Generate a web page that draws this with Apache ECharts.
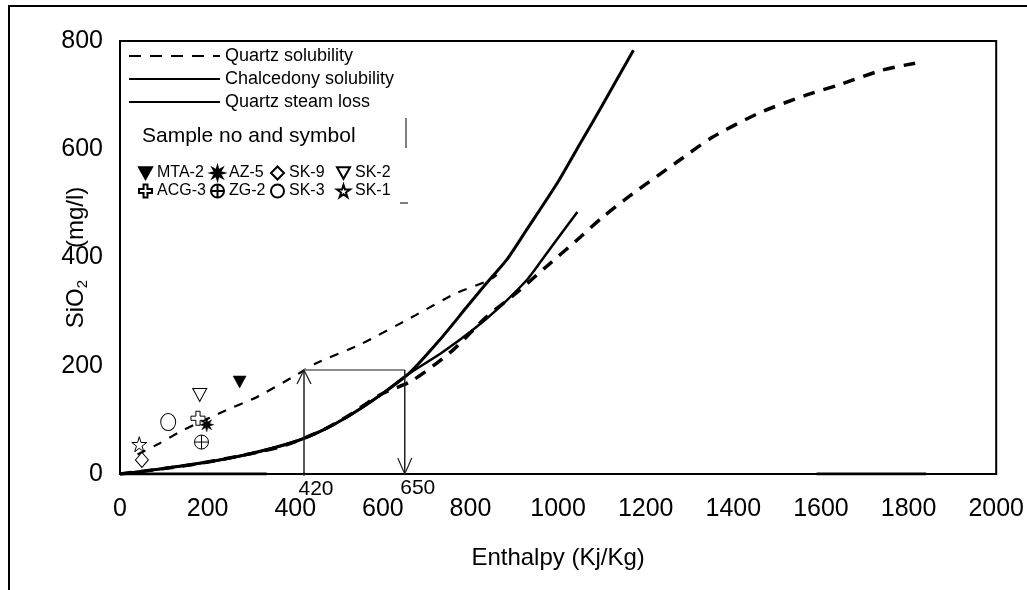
<!DOCTYPE html>
<html>
<head>
<meta charset="utf-8">
<script src="https://cdn.jsdelivr.net/npm/echarts@6/dist/echarts.min.js"></script>
<style>html,body{margin:0;padding:0;background:#fff}#c{width:1027px;height:590px}</style>
</head>
<body>
<div id="c"></div>
<script>
// ---- data ----
const xTicks = [0, 200, 400, 600, 800, 1000, 1200, 1400, 1600, 1800, 2000];
const yTicks = [0, 200, 400, 600, 800];

const quartzH = [0, 100, 200, 300, 365, 410, 463, 524, 593, 668, 760, 836, 904, 973, 1040, 1101, 1169, 1269, 1352, 1459, 1566, 1641, 1739, 1815];
const quartzS = [0, 10, 22, 38, 50, 63, 81, 109, 146, 173, 229, 290, 334, 383, 430, 474, 517, 575, 622, 667, 700, 719, 746, 759];

const chalcH = [0, 100, 200, 300, 400, 463, 524, 593, 661, 729, 791, 836, 882, 928, 1000, 1050, 1100, 1172];
const chalcS = [0, 10, 22, 38, 60, 81, 108, 145, 187, 247, 308, 352, 395, 451, 540, 610, 680, 783];

const steamH = [0, 100, 200, 300, 400, 463, 524, 593, 650, 736, 805, 866, 928, 960, 996, 1044];
const steamS = [0, 10, 22, 38, 60, 81, 108, 145, 180, 225, 266, 308, 358, 392, 432, 484];

const mixH = [40, 91, 144, 243, 312, 394, 449, 550, 676, 767, 843, 860];
const mixS = [36, 57, 81, 118, 142, 179, 205, 240, 294, 334, 358, 368];

const arrowH = [420, 650];      // enthalpy of the two vertical arrows
const arrowS = 192;             // silica level of the horizontal link
const arrowLabels = ['420', '650'];

const sampleNames = ['MTA-2', 'AZ-5', 'SK-9', 'SK-2', 'ACG-3', 'ZG-2', 'SK-3', 'SK-1'];
const sampleH = [273, 198, 50, 182, 178, 186, 110, 44];
const sampleS = [170, 91, 26, 146, 103, 59, 96, 55];

const traceA = [[0, 0], [335, 0]];
const traceB = [[1590, 0], [1840, 0]];

// ---- helpers ----
const zip = (a, b) => a.map((v, i) => [v, b[i]]);
const SANS = "'Liberation Sans',Arial,sans-serif";

const SYM = {
  downTri: 'path://M0,0 L100,0 L50,90 Z',
  burst: 'path://M50,0 L58.4,29.7 L85.4,14.6 L70.3,41.6 L100,50 L70.3,58.4 L85.4,85.4 L58.4,70.3 L50,100 L41.6,70.3 L14.6,85.4 L29.7,58.4 L0,50 L29.7,41.6 L14.6,14.6 L41.6,29.7 Z',
  diamond: 'path://M50,0 L100,50 L50,100 L0,50 Z',
  cross: 'path://M35,0 L65,0 L65,35 L100,35 L100,65 L65,65 L65,100 L35,100 L35,65 L0,65 L0,35 L35,35 Z',
  circlePlus: 'path://M50,0 A50,50 0 1,1 49.99,0 Z M50,0 L50,100 M0,50 L100,50',
  circle: 'circle',
  star: 'path://M50,0 L61,35 L98,35 L68,57 L79,91 L50,70 L21,91 L32,57 L2,35 L39,35 Z',
  arrowUp: 'path://M0,100 L50,0 L100,100',
  arrowDown: 'path://M0,0 L50,100 L100,0'
};
const sampleSym = [SYM.downTri, SYM.burst, SYM.diamond, SYM.downTri, SYM.cross, SYM.circlePlus, SYM.circle, SYM.star];
const sampleFilled = [true, true, false, false, false, false, false, false];
const sampleSize = [[13, 12], 14, [13, 15], [14, 13], 14, 14, [15, 17], 15];

const arrowLabel = (txt, dx) => ({
  show: true, formatter: txt, position: 'bottom', distance: 2, offset: [dx, 1],
  fontSize: 21, fontFamily: SANS, color: '#000', opacity: 1
});

const chart = echarts.init(document.getElementById('c'), null, {renderer: 'canvas'});

const series = [
  {
    name: 'Quartz solubility', type: 'line', data: zip(quartzH, quartzS), symbol: 'none', smooth: 0.25,
    itemStyle: {color: '#000'}, lineStyle: {color: '#000', width: 3.5, type: [12, 9]}, z: 3
  },
  {
    name: 'Chalcedony solubility', type: 'line', data: zip(chalcH, chalcS), symbol: 'none', smooth: 0.25,
    itemStyle: {color: '#000'}, lineStyle: {color: '#000', width: 3}, z: 3
  },
  {
    name: 'Quartz steam loss', type: 'line', data: zip(steamH, steamS), symbol: 'none', smooth: 0.25,
    itemStyle: {color: '#000'}, lineStyle: {color: '#000', width: 2.5}, z: 3
  },
  {
    name: 'Mixing line', type: 'line', data: zip(mixH, mixS), symbol: 'none', smooth: 0.2,
    lineStyle: {color: '#000', width: 2.2, type: [9, 9]}, z: 3
  },
  {
    name: 'trace1', type: 'line', data: traceA, symbol: 'none', lineStyle: {color: '#000', width: 3}, z: 2
  },
  {
    name: 'trace2', type: 'line', data: traceB, symbol: 'none', lineStyle: {color: '#000', width: 3}, z: 2
  },
  {
    name: 'arrow420', type: 'line', showSymbol: true,
    data: [
      {value: [arrowH[0], 0], symbol: 'circle', symbolSize: 2, label: arrowLabel(arrowLabels[0], 12)},
      {value: [arrowH[0], arrowS], symbol: SYM.arrowUp, symbolSize: [14, 14], symbolOffset: [0, 7]}
    ],
    lineStyle: {color: '#222', width: 1.5},
    itemStyle: {color: 'rgba(0,0,0,0)', borderColor: '#222', borderWidth: 1.3}, z: 4
  },
  {
    name: 'link', type: 'line', symbol: 'none',
    data: [[arrowH[0], arrowS], [arrowH[1], arrowS]],
    lineStyle: {color: '#8a8a8a', width: 2}, z: 4
  },
  {
    name: 'arrow650', type: 'line', showSymbol: true,
    data: [
      {value: [arrowH[1], arrowS], symbol: 'none'},
      {value: [arrowH[1], 0], symbol: SYM.arrowDown, symbolSize: [14, 16], symbolOffset: [0, -8],
       label: arrowLabel(arrowLabels[1], 13)}
    ],
    lineStyle: {color: '#222', width: 1.5},
    itemStyle: {color: 'rgba(0,0,0,0)', borderColor: '#222', borderWidth: 1.3}, z: 4
  }
];

sampleNames.forEach((n, i) => {
  series.push({
    name: n, type: 'scatter', data: [[sampleH[i], sampleS[i]]],
    symbol: sampleSym[i], symbolSize: sampleSize[i],
    itemStyle: {opacity: 1, color: sampleFilled[i] ? '#000' : '#fff', borderColor: '#000', borderWidth: sampleFilled[i] ? 0.5 : 1},
    z: 5
  });
});

const sampleLegendCols = [
  {left: 138, names: ['MTA-2', 'ACG-3']},
  {left: 210, names: ['AZ-5', 'ZG-2']},
  {left: 270, names: ['SK-9', 'SK-3']},
  {left: 336, names: ['SK-2', 'SK-1']}
];

const legends = [{
  data: ['Quartz solubility', 'Chalcedony solubility', 'Quartz steam loss'],
  orient: 'vertical', left: 128, top: 47, padding: 0,
  itemWidth: 91, itemHeight: 14, itemGap: 5, selectedMode: false,
  itemStyle: {color: 'rgba(0,0,0,0)', borderColor: 'rgba(0,0,0,0)', borderWidth: 0},
  textStyle: {fontSize: 18, fontFamily: SANS, color: '#000'}
}];
sampleLegendCols.forEach(c => legends.push({
  data: c.names, orient: 'vertical', left: c.left, top: 165, padding: 0,
  itemWidth: 13, itemHeight: 13, itemGap: 2, selectedMode: false,
  textStyle: {fontSize: 16, fontFamily: SANS, color: '#000'}
}));

chart.setOption({
  animation: false,
  backgroundColor: '#fff',
  grid: {left: 120, right: 29, top: 41, bottom: 116, show: true, borderColor: '#000', borderWidth: 2},
  xAxis: {
    type: 'value', min: xTicks[0], max: xTicks[xTicks.length - 1], interval: 200,
    name: 'Enthalpy (Kj/Kg)', nameLocation: 'middle', nameGap: 72, nameMoveOverlap: false,
    nameTextStyle: {fontSize: 24, fontFamily: SANS, color: '#000'},
    axisLine: {show: true, lineStyle: {color: '#000', width: 2}},
    axisTick: {show: false}, splitLine: {show: false},
    axisLabel: {fontSize: 25, fontFamily: SANS, color: '#000', margin: 23, formatter: v => String(v)}
  },
  yAxis: {
    type: 'value', min: yTicks[0], max: yTicks[yTicks.length - 1], interval: 200,
    name: '{a|SiO}{b|2}{c|(mg/l)}', nameLocation: 'middle', nameRotate: 90, nameGap: 30,
    nameMoveOverlap: false,
    nameTextStyle: {
      color: '#000',
      rich: {
        a: {fontSize: 24, fontFamily: SANS, color: '#000'},
        b: {fontSize: 15, fontFamily: SANS, color: '#000', verticalAlign: 'bottom', padding: [13, 0, 0, 0]},
        c: {fontSize: 24, fontFamily: SANS, color: '#000', padding: [0, 0, 0, 32]}
      }
    },
    axisLine: {show: true, lineStyle: {color: '#000', width: 2}},
    axisTick: {show: false}, splitLine: {show: false},
    axisLabel: {fontSize: 25, fontFamily: SANS, color: '#000', margin: 17, formatter: v => String(v)}
  },
  legend: legends,
  graphic: [
    {type: 'rect', silent: true, shape: {x: 9, y: 6, width: 1040, height: 610},
     style: {fill: 'none', stroke: '#000', lineWidth: 2}},
    {type: 'text', left: 142, top: 126, silent: true,
     style: {text: 'Sample no and symbol', fontSize: 21, fontFamily: SANS, fill: '#000'}},
    {type: 'line', silent: true, shape: {x1: 406, y1: 118, x2: 406, y2: 148}, style: {stroke: '#000', lineWidth: 1}},
    {type: 'line', silent: true, shape: {x1: 400, y1: 203, x2: 408, y2: 203}, style: {stroke: '#000', lineWidth: 1}}
  ],
  series: series
});
</script>
</body>
</html>
